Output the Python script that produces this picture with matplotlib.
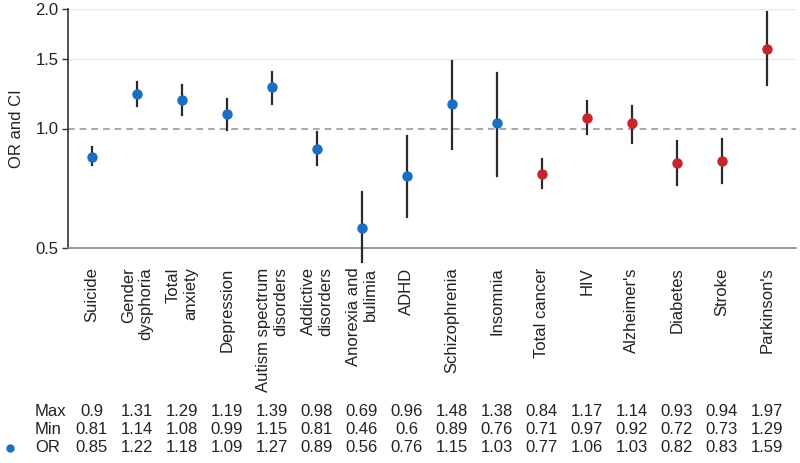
import matplotlib
matplotlib.use("Agg")
import matplotlib.pyplot as plt
import matplotlib.transforms as mtransforms
from matplotlib.lines import Line2D
from matplotlib.ticker import FixedLocator, NullLocator

plt.rcParams['font.family'] = ['Liberation Sans', 'DejaVu Sans']

categories = ["Suicide", "Gender\ndysphoria", "Total\nanxiety", "Depression",
              "Autism spectrum\ndisorders", "Addictive\ndisorders", "Anorexia and\nbulimia",
              "ADHD", "Schizophrenia", "Insomnia", "Total cancer", "HIV", "Alzheimer's",
              "Diabetes", "Stroke", "Parkinson's"]
ci_max = [0.9, 1.31, 1.29, 1.19, 1.39, 0.98, 0.69, 0.96, 1.48, 1.38, 0.84, 1.17, 1.14, 0.93, 0.94, 1.97]
ci_min = [0.81, 1.14, 1.08, 0.99, 1.15, 0.81, 0.46, 0.6, 0.89, 0.76, 0.71, 0.97, 0.92, 0.72, 0.73, 1.29]
odds = [0.85, 1.22, 1.18, 1.09, 1.27, 0.89, 0.56, 0.76, 1.15, 1.03, 0.77, 1.06, 1.03, 0.82, 0.83, 1.59]
group = ["psych"] * 10 + ["somatic"] * 6
yticks = [0.5, 1.0, 1.5, 2.0]

colors = {"psych": "#1a6fc0", "somatic": "#c8242b"}
txt = "#222222"
fs = 12

fig = plt.figure(figsize=(8, 4.63), dpi=100)
ax = fig.add_axes([0.085, 1 - 248 / 463, 0.91, (248 - 9) / 463])
ax.set_yscale('log')
ax.set_ylim(0.5, 2.0)
ax.set_xlim(-0.53, 15.65)

x = list(range(len(categories)))
for i in x:
    ax.plot([i, i], [ci_min[i], ci_max[i]], color="#2a2a2a", lw=1.6, clip_on=False, zorder=3)
    ax.plot(i, odds[i], 'o', color=colors[group[i]], ms=6.5, zorder=4, clip_on=False)

ax.axhline(1.0, color="#999999", lw=1.2, ls=(0, (4, 3)), zorder=1)
for v in [1.5, 2.0]:
    ax.axhline(v, color="#e8e8e8", lw=1.0, zorder=0)

ax.yaxis.set_major_locator(FixedLocator(yticks))
ax.yaxis.set_minor_locator(NullLocator())
ax.set_yticklabels([f"{v:.1f}" for v in yticks], fontsize=fs, color=txt)
ax.tick_params(axis='y', length=4, width=1, color="#333333", pad=3)
ax.set_xticks(x)
ax.set_xticklabels(categories, rotation=90, fontsize=fs, color=txt, va='top', ha='center',
                   multialignment='right')
ax.tick_params(axis='x', length=0, pad=14)

for s in ['top', 'right']:
    ax.spines[s].set_visible(False)
ax.spines['left'].set_color("#333333")
ax.spines['bottom'].set_color("#888888")
ax.spines['left'].set_linewidth(1.2)
ax.spines['bottom'].set_linewidth(1.2)

ax.set_ylabel("OR and CI", fontsize=fs, color=txt, labelpad=8)

# table below
trans = mtransforms.blended_transform_factory(ax.transData, fig.transFigure)
rows = [("Max", ci_max, 412), ("Min", ci_min, 430), ("OR", odds, 448)]
for label, vals, ypix in rows:
    yf = 1 - ypix / 463
    fig.text(35 / 800, yf, label, fontsize=fs, color=txt, va='center', ha='left')
    for i, v in enumerate(vals):
        ax.text(i, yf, f"{v:g}", transform=trans, fontsize=fs, color=txt, va='center', ha='center')
fig.add_artist(Line2D([10 / 800], [1 - 448 / 463], transform=fig.transFigure, marker='o',
                      ms=5, color=colors["psych"], ls='none'))
fig.savefig("out.png", dpi=100)
